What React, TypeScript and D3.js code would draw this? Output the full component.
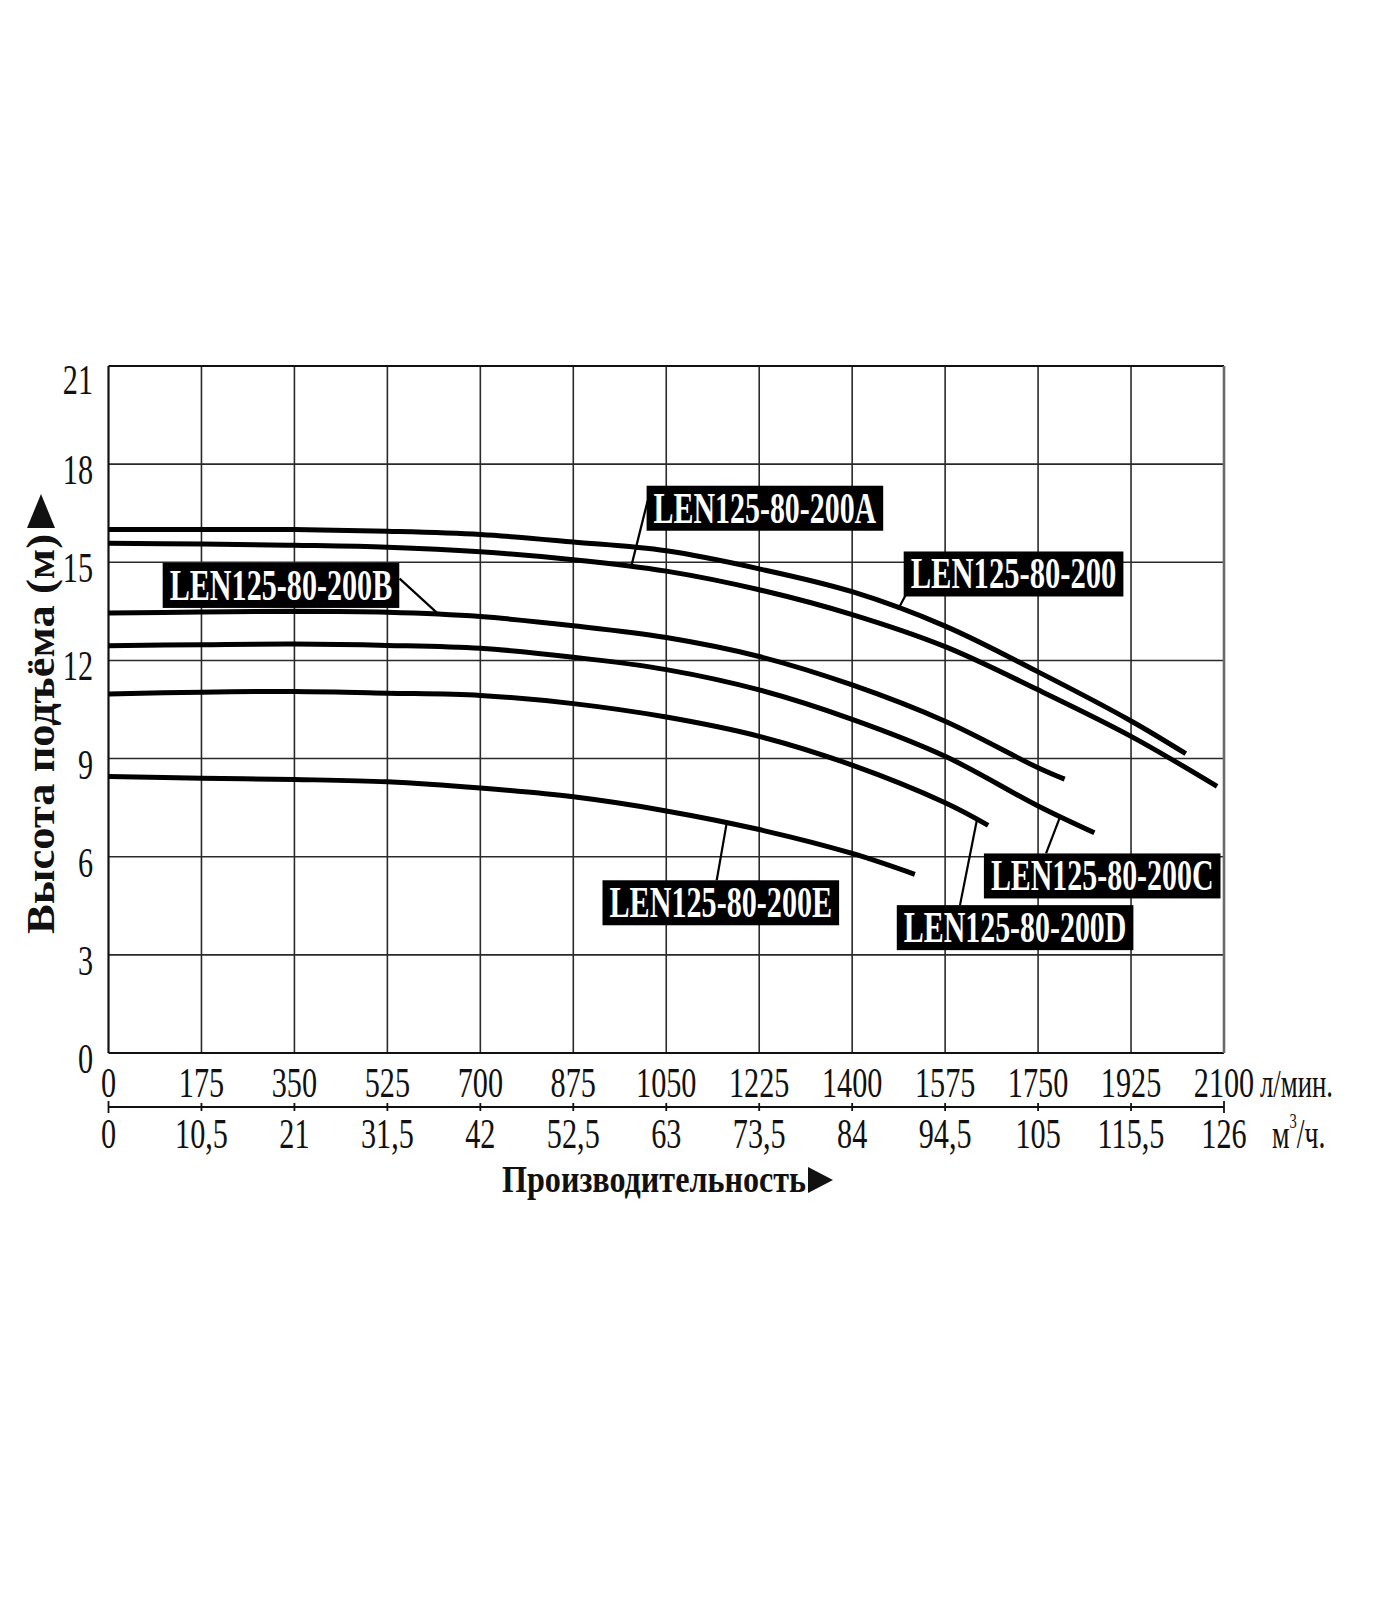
import React from 'react';
import * as d3 from 'd3';

const LPM_TICKS = [0, 175, 350, 525, 700, 875, 1050, 1225, 1400, 1575, 1750, 1925, 2100];
const M3H_TICKS = ['0', '10,5', '21', '31,5', '42', '52,5', '63', '73,5', '84', '94,5', '105', '115,5', '126'];
const HEAD_TICKS = [0, 3, 6, 9, 12, 15, 18, 21];

const Q_200 = [0, 175, 350, 525, 700, 875, 1050, 1225, 1400, 1575, 1750, 1925, 2028];
const H_200 = [16.0, 16.0, 16.0, 15.95, 15.85, 15.62, 15.35, 14.8, 14.1, 13.05, 11.65, 10.15, 9.15];
const Q_A = [0, 175, 350, 525, 700, 875, 1050, 1225, 1400, 1575, 1750, 1925, 2087];
const H_A = [15.58, 15.56, 15.52, 15.46, 15.32, 15.08, 14.73, 14.16, 13.4, 12.42, 11.1, 9.68, 8.15];
const Q_B = [0, 175, 350, 525, 700, 875, 1050, 1225, 1400, 1575, 1750, 1800];
const H_B = [13.45, 13.48, 13.5, 13.47, 13.34, 13.06, 12.7, 12.12, 11.25, 10.14, 8.72, 8.37];
const Q_C = [0, 175, 350, 525, 700, 875, 1050, 1225, 1400, 1575, 1750, 1856];
const H_C = [12.45, 12.48, 12.5, 12.46, 12.37, 12.1, 11.72, 11.1, 10.2, 9.07, 7.55, 6.73];
const Q_D = [0, 175, 350, 525, 700, 875, 1050, 1225, 1400, 1575, 1656];
const H_D = [10.97, 11.03, 11.05, 11.0, 10.93, 10.68, 10.27, 9.68, 8.8, 7.65, 6.96];
const Q_E = [0, 175, 350, 525, 700, 875, 1050, 1225, 1400, 1518];
const H_E = [8.45, 8.4, 8.36, 8.29, 8.1, 7.83, 7.4, 6.83, 6.1, 5.46];

const SERIES_NAMES = ['LEN125-80-200', 'LEN125-80-200A', 'LEN125-80-200B', 'LEN125-80-200C', 'LEN125-80-200D', 'LEN125-80-200E'];
const SERIES_Q = [Q_200, Q_A, Q_B, Q_C, Q_D, Q_E];
const SERIES_H = [H_200, H_A, H_B, H_C, H_D, H_E];

// label annotation anchors (data units)
const LABEL_BOX_Q = [1497, 1013, 102, 1648, 1484, 930];
const LABEL_BOX_H = [15.33, 17.34, 14.98, 6.1, 4.52, 5.28];
const LEADER_FROM_Q = [1503, 1015, 548, 1765, 1603, 1145];
const LEADER_FROM_H = [14.07, 16.88, 14.5, 6.1, 4.52, 5.28];
const LEADER_TO_Q = [1486, 985, 618, 1791, 1635, 1164];
const LEADER_TO_H = [13.55, 14.93, 13.46, 7.2, 7.14, 7.05];

const Y_TITLE = 'Высота подъёма (м)';
const X_TITLE = 'Производительность';
const UNIT_LPM = 'л/мин.';

const W = 1400;
const H = 1600;
const LEFT = 108.5;
const RIGHT = 1224;
const TOP = 366;
const BOTTOM = 1053;
const SERIF = '"Liberation Serif", "DejaVu Serif", serif';

export default function App() {
  const x = d3.scaleLinear().domain([0, 2100]).range([LEFT, RIGHT]);
  const y = d3.scaleLinear().domain([0, 21]).range([BOTTOM, TOP]);
  const line = d3
    .line<[number, number]>()
    .x((d) => x(d[0]))
    .y((d) => y(d[1]))
    .curve(d3.curveCatmullRom.alpha(0.5));

  const axis2Y = 1107;

  return (
    <svg
      width={W}
      height={H}
      viewBox={`0 0 ${W} ${H}`}
      style={{ position: 'absolute', left: 0, top: 0, display: 'block', background: '#fff' }}
      fontFamily={SERIF}
    >
      <rect x={0} y={0} width={W} height={H} fill="#fff" />
      {/* grid */}
      {LPM_TICKS.map((t, i) =>
        i > 0 && i < LPM_TICKS.length - 1 ? (
          <line key={'vx' + t} x1={x(t)} x2={x(t)} y1={TOP} y2={BOTTOM} stroke="#2a2a2a" strokeWidth={1.6} />
        ) : null
      )}
      {HEAD_TICKS.map((t, i) =>
        i > 0 && i < HEAD_TICKS.length - 1 ? (
          <line key={'hy' + t} x1={LEFT} x2={RIGHT} y1={y(t)} y2={y(t)} stroke="#2a2a2a" strokeWidth={1.6} />
        ) : null
      )}
      {/* frame */}
      <line x1={LEFT} x2={RIGHT} y1={TOP} y2={TOP} stroke="#111" strokeWidth={2.2} />
      <line x1={LEFT} x2={RIGHT} y1={BOTTOM} y2={BOTTOM} stroke="#111" strokeWidth={2.2} />
      <line x1={LEFT} x2={LEFT} y1={TOP} y2={BOTTOM} stroke="#111" strokeWidth={2.2} />
      <line x1={RIGHT} x2={RIGHT} y1={TOP} y2={BOTTOM} stroke="#6a6a6a" strokeWidth={2.6} />

      {/* curves */}
      {SERIES_NAMES.map((name, i) => {
        const pts = SERIES_Q[i].map((q, j) => [q, SERIES_H[i][j]] as [number, number]);
        return (
          <path key={name} d={line(pts) || ''} fill="none" stroke="#000" strokeWidth={5} strokeLinecap="butt" />
        );
      })}

      {/* leaders */}
      {SERIES_NAMES.map((name, i) => (
        <line
          key={'ld' + name}
          x1={x(LEADER_FROM_Q[i])}
          y1={y(LEADER_FROM_H[i])}
          x2={x(LEADER_TO_Q[i])}
          y2={y(LEADER_TO_H[i])}
          stroke="#000"
          strokeWidth={2.2}
        />
      ))}

      {/* labels */}
      {SERIES_NAMES.map((name, i) => {
        const bw = 16.9 * name.length;
        const bx = x(LABEL_BOX_Q[i]);
        const by = y(LABEL_BOX_H[i]);
        return (
          <g key={'lb' + name}>
            <rect x={bx} y={by} width={bw} height={45} fill="#000" />
            <text
              x={bx + 7}
              y={by + 37}
              fill="#fff"
              fontWeight="bold"
              fontSize={44}
              textLength={bw - 14}
              lengthAdjust="spacingAndGlyphs"
            >
              {name}
            </text>
          </g>
        );
      })}

      {/* y tick labels */}
      {HEAD_TICKS.map((t) => (
        <text
          key={'yt' + t}
          transform={`translate(93, ${y(t) + (t === 21 ? 28 : 20)}) scale(0.72, 1)`}
          textAnchor="end"
          fontSize={42}
          fill="#111"
        >
          {t}
        </text>
      ))}

      {/* x tick labels row 1 */}
      {LPM_TICKS.map((t) => (
        <text
          key={'xt' + t}
          transform={`translate(${x(t)}, 1097) scale(0.72, 1)`}
          textAnchor="middle"
          fontSize={42}
          fill="#111"
        >
          {t}
        </text>
      ))}
      <text x={1260} y={1097} fontSize={40} fill="#111" textLength={73} lengthAdjust="spacingAndGlyphs">
        {UNIT_LPM}
      </text>

      {/* secondary axis */}
      <line x1={x(0)} x2={x(2100)} y1={axis2Y} y2={axis2Y} stroke="#111" strokeWidth={2.2} />
      {LPM_TICKS.map((t, i) => (
        <line
          key={'t2' + t}
          x1={x(t)}
          x2={x(t)}
          y1={axis2Y - (i === 0 || i === LPM_TICKS.length - 1 ? 6 : 4)}
          y2={axis2Y + (i === 0 || i === LPM_TICKS.length - 1 ? 6 : 4)}
          stroke="#111"
          strokeWidth={1.8}
        />
      ))}
      {M3H_TICKS.map((t, i) => (
        <text
          key={'x2' + t}
          transform={`translate(${x(LPM_TICKS[i])}, 1148) scale(0.72, 1)`}
          textAnchor="middle"
          fontSize={42}
          fill="#111"
        >
          {t}
        </text>
      ))}
      <g transform="translate(1272, 1148) scale(0.66, 1)" fill="#111">
        <text x={0} y={0} fontSize={42}>
          м
          <tspan fontSize={22} dy={-20}>3</tspan>
          <tspan fontSize={42} dy={20}>/ч.</tspan>
        </text>
      </g>

      {/* x title */}
      <text x={502} y={1192} fontSize={38} fontWeight="bold" fill="#111" textLength={304} lengthAdjust="spacingAndGlyphs">
        {X_TITLE}
      </text>
      <path d="M808,1167 L808,1193 L833,1180 Z" fill="#111" />

      {/* y title */}
      <text
        transform="translate(54, 934) rotate(-90)"
        fontSize={39}
        fontWeight="bold"
        fill="#111"
        textLength={400}
        lengthAdjust="spacingAndGlyphs"
      >
        {Y_TITLE}
      </text>
      <path d="M27,528 L55,528 L41,494 Z" fill="#111" />
    </svg>
  );
}
